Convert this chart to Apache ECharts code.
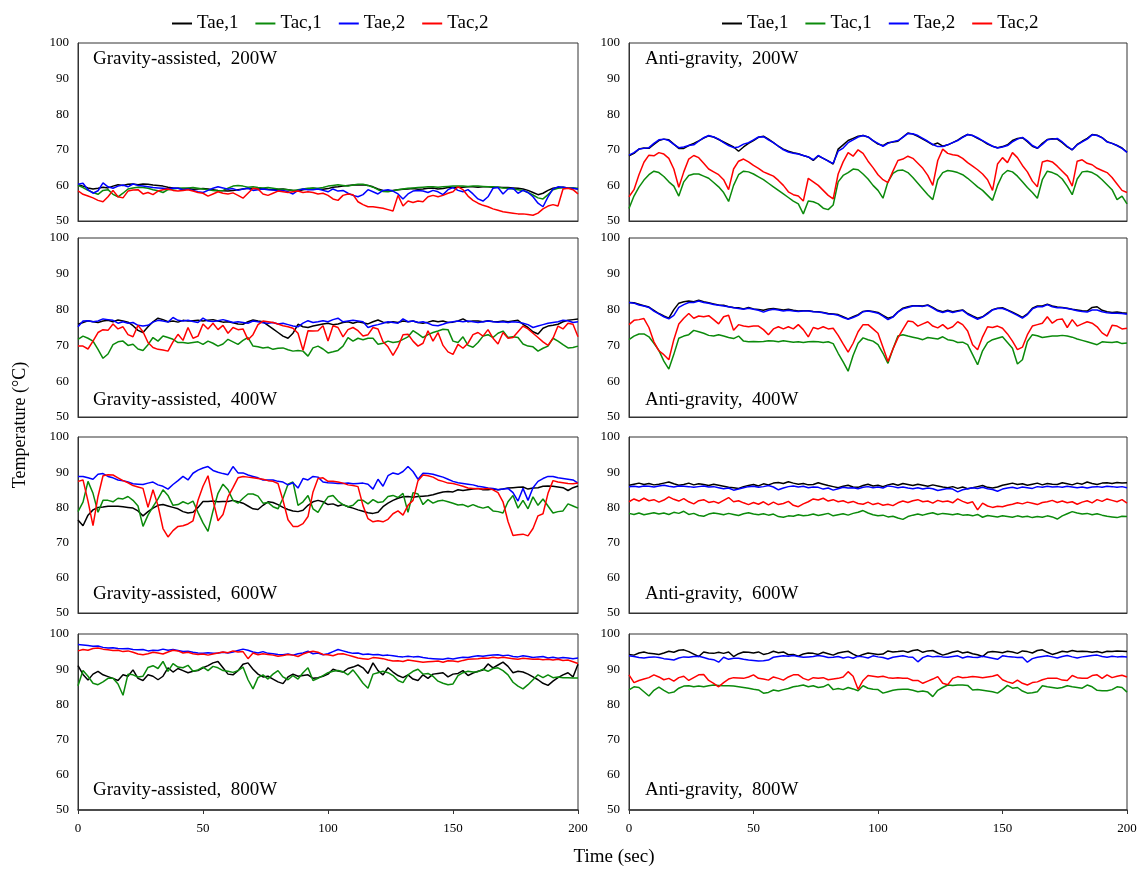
<!DOCTYPE html>
<html>
<head>
<meta charset="utf-8">
<title>Temperature traces</title>
<script src="https://cdn.jsdelivr.net/npm/echarts@6/dist/echarts.min.js"></script>
<style>
  html, body { margin: 0; padding: 0; background: #fff; }
  #chart { width: 1142px; height: 870px; }
</style>
</head>
<body>
<div id="chart"></div>
<script>
// sampling grid: one reading every 2 s, 0..200 s
const TIME = Array.from({ length: 101 }, (_, i) => i * 2);
const SERIES_NAMES = ['Tae,1', 'Tac,1', 'Tae,2', 'Tac,2'];

// ---- Gravity-assisted, 200W
const G200_TAE1 = [60.2,59.8,59.3,59.0,59.2,59.5,
  59.3,59.8,60.2,60.0,60.3,60.4,60.2,60.4,60.3,60.1,
  60.0,59.8,59.5,59.3,59.2,59.0,59.1,58.9,59.0,59.1,
  59.0,58.8,58.6,58.5,58.4,58.6,58.8,59.0,59.2,59.1,
  59.0,59.1,58.9,58.8,58.9,59.0,58.8,58.6,58.4,58.8,
  59.0,59.2,59.0,58.9,59.1,59.5,59.6,59.8,60.0,60.1,
  60.1,60.2,60.0,59.6,59.0,58.6,58.4,58.6,58.8,58.9,
  59.0,59.1,58.9,59.0,59.2,59.3,59.0,59.1,59.4,59.4,
  59.5,59.5,59.6,59.6,59.5,59.6,59.6,59.5,59.5,59.4,
  59.4,59.3,59.2,59.0,58.6,58.0,57.4,57.8,58.6,59.2,
  59.4,59.5,59.3,59.2,59.0];
const G200_TAC1 = [60.0,59.4,58.6,58.0,57.5,58.6,
  58.8,57.5,56.8,57.8,59.0,59.3,59.5,59.4,59.2,58.8,
  58.5,58.0,58.8,59.0,59.2,59.3,59.3,59.4,59.2,59.0,
  58.8,58.6,58.4,58.6,59.2,59.8,60.0,59.8,59.5,59.6,
  59.4,59.3,59.4,59.2,59.0,58.9,58.8,58.6,58.8,59.0,
  59.2,59.3,59.2,59.4,59.8,60.0,60.2,60.0,59.8,60.1,
  60.3,60.3,60.0,59.5,58.8,58.3,58.2,58.5,58.8,59.0,
  59.2,59.3,59.4,59.5,59.6,59.6,59.5,59.6,59.7,59.8,
  59.8,59.8,59.7,59.8,59.8,59.7,59.6,59.6,59.5,59.3,
  59.2,59.0,58.8,58.6,58.0,57.3,56.5,56.2,57.4,58.8,
  59.2,59.4,59.3,59.3,59.2];
const G200_TAE2 = [60.3,60.6,58.8,57.8,58.5,60.7,
  59.6,59.2,59.8,60.1,59.6,60.4,60.0,59.8,59.6,59.4,
  59.3,59.2,59.0,59.3,59.2,58.8,59.0,58.6,58.2,58.0,
  58.6,59.2,59.6,59.3,58.9,59.1,58.6,59.0,59.2,58.6,
  58.8,59.0,58.8,58.7,58.5,58.6,58.2,57.6,58.6,59.0,
  58.8,58.8,59.0,58.6,58.2,59.0,58.4,58.6,57.8,57.2,
  56.8,57.4,58.8,58.2,57.6,58.6,58.8,58.4,57.6,56.2,
  57.6,58.4,58.6,58.4,58.0,58.6,58.2,57.4,58.8,59.4,
  58.6,58.2,58.8,57.6,56.2,55.6,56.8,59.2,59.4,57.6,
  59.0,59.2,57.8,58.6,58.0,56.8,55.0,54.0,56.8,59.0,
  59.6,59.5,59.3,59.2,59.0];
const G200_TAC2 = [58.5,57.5,57.0,56.5,55.8,55.4,
  56.8,58.6,56.8,56.5,58.4,58.7,58.8,57.6,58.0,57.4,
  58.4,58.8,59.0,58.6,58.4,58.6,58.8,58.4,58.0,57.8,
  57.0,57.6,58.2,57.8,57.6,57.9,57.2,56.4,57.8,59.2,
  59.0,57.6,57.2,57.8,58.4,58.2,58.0,58.2,58.4,58.0,
  58.2,58.0,57.6,57.8,57.2,56.2,55.8,57.2,57.6,57.4,
  55.4,54.6,54.0,54.0,53.8,53.6,53.2,52.8,57.2,54.2,
  55.6,55.2,55.6,55.4,56.8,57.2,56.8,57.2,57.8,58.2,
  59.6,58.8,57.0,55.8,55.0,54.4,54.0,53.4,53.0,52.6,
  52.4,52.2,52.0,52.0,51.8,51.6,52.2,53.4,54.2,54.6,
  54.2,59.0,59.2,58.8,57.6];

// ---- Anti-gravity, 200W
const A200_TAE1 = [68.3,69.0,70.2,70.5,70.4,71.5,
  72.6,73.0,72.8,71.6,70.4,70.4,71.2,71.8,72.5,73.3,
  73.9,73.6,72.9,72.2,71.5,70.8,69.6,70.8,71.8,72.6,
  73.5,73.8,73.0,72.0,71.0,70.2,69.6,69.2,68.9,68.4,
  68.0,67.0,68.3,67.6,66.9,66.0,70.2,71.4,72.6,73.2,
  73.8,74.0,73.6,72.6,71.6,71.2,72.0,72.2,72.4,73.6,
  74.7,74.4,73.8,73.0,72.2,71.4,71.9,71.0,71.4,72.0,
  72.7,73.6,74.3,74.0,73.2,72.5,71.6,71.0,70.6,70.9,
  71.4,72.6,73.2,73.4,72.3,71.0,70.4,71.8,72.9,73.1,
  73.0,72.0,70.8,70.0,71.5,72.4,73.2,74.3,74.1,73.4,
  72.3,71.8,71.2,70.5,69.3];
const A200_TAC1 = [53.5,57.0,59.5,61.5,63.0,64.0,
  63.6,62.5,61.0,59.8,57.0,61.0,62.8,63.2,63.2,62.6,
  62.0,60.8,59.6,58.0,55.5,60.0,63.0,64.0,63.8,63.2,
  62.4,61.6,60.6,59.6,58.6,57.6,56.6,55.6,54.8,52.0,
  55.6,55.4,54.8,53.6,53.2,54.5,61.0,62.8,63.6,64.6,
  64.4,63.2,61.8,60.0,58.6,56.4,61.0,63.4,64.2,64.3,
  63.6,62.2,60.6,59.0,57.4,56.0,61.6,63.6,64.2,64.0,
  63.6,63.0,62.0,60.8,59.6,58.6,57.2,55.8,60.0,63.0,
  64.2,63.8,62.6,61.0,59.4,58.0,56.4,61.6,64.0,63.6,
  63.0,61.8,59.8,57.4,61.8,63.8,64.0,63.6,62.8,61.6,
  60.2,58.8,56.0,57.0,54.8];
const A200_TAE2 = [68.5,69.2,70.2,70.4,70.6,71.8,
  72.8,73.0,72.6,71.5,70.6,70.8,71.2,71.4,72.4,73.4,
  74.0,73.6,73.0,72.0,71.2,70.6,70.8,71.6,72.0,72.8,
  73.6,73.7,72.8,72.0,71.0,70.0,69.4,69.0,68.8,68.4,
  68.0,67.2,68.4,67.6,66.8,66.2,69.6,70.5,72.0,72.8,
  73.6,74.0,73.6,72.6,71.8,71.0,71.8,72.3,72.6,73.5,
  74.6,74.5,74.0,73.2,72.4,71.5,70.9,70.9,71.4,72.0,
  72.6,73.5,74.3,74.0,73.4,72.6,71.8,71.0,70.5,70.8,
  71.2,72.2,73.0,73.5,72.5,71.2,70.5,71.5,72.8,73.0,
  73.2,72.2,71.0,70.0,71.4,72.2,73.0,74.2,74.0,73.4,
  72.2,71.8,71.2,70.4,69.3];
const A200_TAC2 = [56.8,58.8,63.0,66.5,68.5,68.3,
  69.2,68.8,67.6,64.6,59.5,63.8,67.4,68.4,67.8,66.2,
  64.6,63.8,63.0,61.6,58.8,64.6,66.8,67.4,66.6,65.6,
  64.8,63.8,63.2,62.6,61.4,60.0,58.2,57.4,57.0,55.6,
  62.0,61.0,60.0,58.6,57.2,56.2,63.2,66.6,69.2,68.2,
  70.0,69.0,66.8,65.0,63.0,61.6,60.8,64.0,67.0,67.4,
  68.2,67.6,66.2,64.8,62.8,60.0,67.0,70.2,69.0,68.6,
  68.4,67.6,66.4,65.4,64.4,63.2,61.6,58.6,66.0,67.8,
  66.4,69.2,67.8,65.6,63.8,61.2,59.6,66.6,67.0,66.6,
  65.4,64.0,62.6,59.8,66.8,67.2,66.2,65.8,64.8,64.2,
  63.6,62.2,60.4,58.6,58.0];

// ---- Gravity-assisted, 400W
const G400_TAE1 = [75.9,76.4,76.9,76.6,76.4,76.8,
  77.0,76.6,77.1,76.8,76.5,75.5,74.2,73.6,75.2,76.6,
  77.6,77.2,76.6,76.8,76.5,77.0,76.8,76.9,77.0,76.8,
  77.0,77.2,76.8,76.5,76.6,76.3,76.0,75.9,76.6,77.1,
  76.8,76.6,75.6,74.6,73.6,72.6,72.0,73.4,75.9,75.2,
  75.0,75.4,75.7,76.0,76.2,75.8,76.0,76.4,76.6,76.2,
  76.6,76.3,76.0,76.6,77.1,76.5,76.3,76.6,76.4,76.8,
  76.6,76.8,76.4,76.2,76.5,76.9,76.6,76.8,76.4,76.5,
  76.8,77.4,76.6,76.8,76.8,76.6,76.9,76.7,76.6,76.8,
  76.6,76.8,77.0,75.9,75.0,73.8,73.2,74.8,75.4,75.6,
  75.9,76.6,77.0,77.2,77.4];
const G400_TAC1 = [71.7,72.6,72.0,71.2,68.9,66.4,
  67.6,70.2,71.0,71.2,70.0,70.3,69.0,68.6,70.2,72.2,
  71.2,72.6,72.2,71.7,70.8,70.8,70.6,70.8,71.0,70.3,
  71.2,70.6,69.8,70.4,71.7,71.0,70.3,71.4,72.2,69.8,
  69.6,69.3,69.5,68.9,69.2,69.3,68.8,68.4,68.6,68.4,
  67.0,69.3,69.8,69.0,67.9,68.2,68.6,69.8,72.2,71.2,
  72.0,71.6,72.0,72.0,70.3,70.6,71.2,70.8,71.0,71.7,
  72.4,74.1,73.2,72.2,73.0,73.6,74.0,74.5,74.4,71.2,
  70.8,72.4,70.0,69.5,70.8,72.6,73.0,72.2,73.4,74.0,
  72.2,72.4,72.2,70.4,69.8,69.6,68.4,69.2,69.8,72.0,
  71.2,70.2,69.3,69.4,69.8];
const G400_TAE2 = [75.2,76.8,76.9,76.6,76.8,77.4,
  77.2,77.0,76.2,76.6,76.2,76.4,75.6,75.4,75.6,76.5,
  77.0,76.8,76.5,77.8,77.0,76.8,77.0,76.7,76.4,77.6,
  76.8,76.7,76.9,77.2,76.8,76.4,76.6,76.4,76.2,76.8,
  76.6,76.3,76.2,76.4,76.0,76.2,75.8,75.4,75.2,76.2,
  76.9,76.4,76.6,76.9,76.6,77.2,77.6,76.6,76.8,77.0,
  76.8,76.6,75.0,75.5,75.8,76.2,76.6,76.4,76.2,77.4,
  76.6,76.8,76.4,76.6,76.2,75.6,75.5,75.9,76.4,76.6,
  76.8,76.6,76.8,76.6,76.4,76.6,76.8,76.6,76.5,76.6,
  76.4,76.6,76.5,76.2,75.8,75.0,75.4,75.8,76.2,76.4,
  76.6,77.0,76.9,76.4,76.6];
const G400_TAC2 = [69.8,69.8,69.0,71.2,73.6,74.4,
  74.2,76.0,74.6,75.2,73.0,72.4,75.6,73.8,70.8,69.4,
  68.9,68.7,68.4,71.0,73.1,71.4,75.0,72.0,72.6,76.0,
  74.6,76.2,74.4,75.6,73.4,75.0,74.4,74.6,71.6,73.0,
  75.8,76.8,76.6,76.4,76.0,75.5,75.2,74.8,73.4,68.6,
  74.1,74.0,74.1,75.5,71.2,75.5,75.0,72.4,74.4,75.0,
  74.1,72.6,73.0,75.0,74.6,71.0,69.6,67.2,69.6,73.0,
  73.1,71.2,69.8,70.6,74.1,71.2,73.6,70.0,68.2,67.5,
  70.3,69.2,70.6,73.0,73.6,72.6,74.4,72.0,70.4,73.6,
  72.0,72.2,73.8,75.4,74.6,73.4,72.2,71.0,70.0,72.0,
  75.4,74.6,76.2,75.9,72.4];

// ---- Anti-gravity, 400W
const A400_TAE1 = [82.0,81.9,81.5,81.1,80.7,79.8,
  78.9,78.2,77.6,80.0,81.8,82.2,82.4,82.2,82.6,82.2,
  81.9,81.6,81.3,81.2,80.8,80.6,80.5,80.2,80.6,80.2,
  80.0,79.8,80.2,80.3,80.1,79.9,80.1,79.8,79.6,79.7,
  79.7,79.5,79.4,79.2,78.9,78.8,78.6,78.0,77.4,78.0,
  78.6,79.5,79.7,79.5,79.2,78.4,77.6,78.0,79.4,80.4,
  80.8,81.1,81.1,81.0,81.3,80.6,79.8,79.4,79.8,79.4,
  79.7,79.9,78.9,78.2,77.6,78.0,79.0,80.0,80.4,80.5,
  79.9,79.3,78.6,77.8,78.8,80.4,81.0,81.0,81.5,81.0,
  80.7,80.6,80.4,80.1,79.9,79.7,79.6,80.6,80.8,79.8,
  79.4,79.2,79.3,79.1,79.0];
const A400_TAC1 = [71.6,72.6,73.2,73.2,72.4,70.6,
  68.6,65.6,63.4,67.5,72.0,72.6,73.0,74.2,73.8,73.4,
  72.8,72.6,73.0,72.6,72.2,71.9,72.6,71.2,71.0,71.1,
  71.0,71.1,71.3,71.2,71.0,71.3,71.1,70.9,71.0,70.8,
  71.0,71.1,71.0,70.8,71.0,70.5,67.8,65.4,62.8,67.2,
  70.6,72.1,71.6,71.2,70.2,67.8,65.0,69.0,72.6,73.0,
  72.6,72.3,72.0,71.6,72.2,72.0,71.8,72.4,71.6,71.4,
  70.8,70.9,70.2,67.4,64.6,68.5,70.8,71.6,72.0,72.4,
  70.8,69.2,64.8,66.0,71.1,73.0,72.7,72.2,72.4,72.6,
  72.6,72.8,72.6,72.3,71.8,71.4,71.0,70.6,70.2,71.0,
  70.9,70.8,71.0,70.5,70.7];
const A400_TAE2 = [82.0,81.8,81.3,81.0,80.6,79.6,
  78.8,78.0,77.4,78.4,80.6,81.4,82.0,82.0,82.4,82.0,
  81.8,81.4,81.2,81.0,80.8,80.5,80.3,80.1,80.4,80.1,
  79.8,79.3,79.8,80.1,79.9,79.6,79.8,79.6,79.5,79.6,
  79.6,79.4,79.3,79.1,78.8,78.7,78.4,77.8,77.3,77.8,
  78.4,79.4,79.6,79.3,79.0,78.2,77.2,77.9,79.3,80.2,
  80.6,81.0,81.0,80.9,81.2,80.4,79.6,79.2,79.6,79.2,
  79.5,79.8,78.7,78.0,77.3,77.9,78.8,79.9,80.3,80.3,
  79.8,79.1,78.4,77.6,78.6,80.2,80.8,80.8,81.4,80.8,
  80.5,80.5,80.3,80.0,79.7,79.5,79.3,79.9,79.9,79.4,
  79.1,79.0,79.0,78.9,78.7];
const A400_TAC2 = [75.8,77.0,77.2,77.5,75.0,71.0,
  68.5,67.4,66.0,71.6,76.0,77.6,78.9,77.6,78.2,78.0,
  78.3,77.2,76.0,78.0,78.4,74.2,75.8,75.4,75.2,75.4,
  75.4,74.4,73.0,74.6,75.2,74.6,75.2,74.6,75.8,74.4,
  72.4,75.0,74.6,75.2,74.6,74.8,72.8,70.4,68.1,70.6,
  73.8,75.8,75.8,74.6,73.4,69.5,65.5,69.0,72.1,74.5,
  76.8,76.6,75.4,76.0,76.6,75.4,74.9,75.8,74.6,75.2,
  76.6,75.8,74.0,70.2,68.8,72.4,75.2,75.0,75.4,74.8,
  73.2,71.2,68.8,69.5,73.0,75.4,75.8,76.2,78.0,76.2,
  77.2,77.4,75.0,77.2,75.4,76.0,76.6,76.2,75.2,73.5,
  72.6,75.6,75.4,74.6,74.8];

// ---- Gravity-assisted, 600W
const G600_TAE1 = [76.4,74.8,77.8,79.3,80.0,80.1,
  80.3,80.3,80.3,80.2,80.0,79.8,79.0,77.6,78.8,79.8,
  80.6,80.8,80.4,80.0,79.6,78.8,78.4,78.6,80.0,81.7,
  81.7,81.8,81.6,81.7,81.7,82.0,81.6,81.2,80.4,79.6,
  79.4,80.6,81.6,81.4,80.8,80.0,79.4,79.0,78.8,79.2,
  80.6,81.6,82.0,81.6,80.8,81.0,80.4,80.8,80.2,79.8,
  79.3,78.9,78.5,78.3,78.6,80.2,81.2,82.0,82.6,83.0,
  83.1,82.9,83.1,83.2,83.3,83.6,84.0,84.4,84.5,84.4,
  85.0,84.8,85.0,85.2,85.4,85.0,85.0,85.2,85.0,85.2,
  85.5,85.6,85.7,85.8,85.2,85.5,85.6,86.0,86.1,86.0,
  85.8,85.6,84.8,85.6,86.1];
const G600_TAC1 = [78.8,81.5,87.4,84.0,78.6,82.0,
  82.0,81.6,82.6,82.4,83.1,82.0,80.4,74.6,77.8,80.2,
  82.4,85.0,83.4,80.6,80.8,81.6,81.0,81.8,78.6,75.6,
  73.2,79.0,84.0,86.6,85.0,82.0,81.2,82.6,83.8,83.8,
  83.2,81.2,81.4,80.2,79.6,82.6,86.6,87.2,80.6,81.6,
  83.4,79.6,78.6,81.0,83.0,83.4,81.8,80.8,80.2,80.6,
  82.0,82.0,81.0,82.2,81.4,81.6,83.1,83.4,82.8,84.0,
  78.6,84.2,83.8,80.8,82.2,81.2,81.8,82.0,81.6,81.2,
  80.7,80.8,80.2,80.8,80.2,79.8,80.2,79.0,78.8,78.4,
  81.6,83.4,79.8,82.0,79.6,83.0,80.6,82.4,80.4,78.4,
  78.8,79.0,81.0,80.4,79.8];
const G600_TAE2 = [88.8,88.8,88.4,88.0,89.4,89.6,
  88.8,88.4,87.8,87.6,87.2,86.7,86.6,86.5,86.9,87.2,
  86.4,86.0,85.2,86.5,87.6,88.8,87.8,89.7,90.6,91.2,
  91.6,90.5,90.0,89.6,89.3,91.6,89.8,89.8,89.2,88.8,
  88.4,87.8,87.8,87.8,87.4,87.2,86.4,87.0,85.5,88.2,
  87.8,88.8,88.6,87.2,87.0,86.9,86.8,86.8,86.9,86.7,
  86.8,86.9,86.6,85.2,88.0,86.0,89.0,89.8,89.4,90.2,
  91.6,90.2,88.0,89.7,89.6,89.4,89.0,88.6,88.0,87.4,
  87.0,86.8,86.6,86.4,86.0,85.8,85.5,85.4,85.0,85.2,
  85.4,84.2,81.8,85.4,82.0,85.6,87.4,88.2,88.8,88.8,
  88.4,88.2,88.0,87.8,86.9];
const G600_TAC2 = [87.4,87.8,81.8,74.8,83.1,89.0,
  89.3,89.2,88.4,87.6,87.0,86.2,85.8,85.4,80.0,85.0,
  80.5,74.0,71.6,73.4,74.6,74.8,75.3,76.2,82.0,86.0,
  89.0,82.0,76.2,78.0,83.0,85.6,88.4,88.8,88.6,88.4,
  88.2,88.0,87.6,87.4,86.8,82.0,76.5,74.6,74.6,75.4,
  77.4,84.4,88.2,88.4,87.4,87.4,87.2,86.9,86.4,86.2,
  85.9,80.5,76.8,75.9,76.2,75.9,76.6,78.2,79.0,77.8,
  80.6,82.0,87.6,89.2,89.0,88.6,87.8,87.4,86.9,86.8,
  86.4,86.0,85.5,85.4,85.3,85.2,85.4,85.0,84.2,81.6,
  76.0,72.0,72.2,72.4,71.9,74.0,77.6,78.2,84.0,87.6,
  87.2,87.0,86.8,86.7,86.9];

// ---- Anti-gravity, 600W
const A600_TAE1 = [86.3,86.6,86.9,86.5,86.8,86.4,
  86.6,86.9,87.2,86.7,86.3,86.5,86.9,86.4,86.7,86.5,
  86.2,86.6,86.3,86.0,85.7,85.6,85.4,85.9,86.2,86.5,
  86.1,86.7,86.4,86.9,87.1,86.8,87.3,86.9,86.6,86.8,
  86.4,86.5,87.0,86.6,86.2,85.9,85.6,86.0,86.3,85.8,
  85.7,86.2,86.6,86.1,86.3,85.9,86.4,86.7,86.3,86.8,
  86.5,86.2,86.6,86.3,86.0,86.4,86.1,85.8,85.6,85.9,
  85.4,85.8,85.3,85.6,85.9,86.2,85.7,85.5,85.8,86.3,
  86.6,86.9,86.5,86.7,86.3,86.6,86.9,86.4,86.8,86.6,
  86.5,87.0,86.7,86.4,86.9,86.6,87.2,86.8,86.5,86.9,
  87.0,86.8,87.1,86.9,87.0];
const A600_TAC1 = [78.3,78.0,78.4,77.9,78.2,78.5,
  78.1,78.4,78.0,78.6,78.3,78.9,78.0,78.3,77.7,77.5,
  78.1,78.4,78.2,77.9,78.3,78.0,77.7,78.2,78.5,78.1,
  77.9,78.2,77.8,78.1,77.4,77.2,77.6,77.5,77.9,77.6,
  77.8,78.1,77.7,78.0,78.3,77.6,77.9,78.2,77.8,78.3,
  78.6,79.1,78.4,77.9,77.6,77.8,77.3,77.5,77.0,76.6,
  77.4,77.8,78.1,77.8,78.2,78.5,78.0,78.3,78.1,77.9,
  78.2,77.8,77.9,77.6,78.0,77.2,77.7,77.5,77.3,77.6,
  77.4,77.2,77.6,77.3,77.5,77.1,77.4,77.2,77.6,77.3,
  76.7,77.6,78.2,78.8,78.4,78.1,78.3,77.9,78.2,77.8,
  77.5,77.3,77.1,77.5,77.4];
const A600_TAE2 = [85.9,86.0,85.8,86.1,86.0,85.8,
  86.1,86.3,86.0,85.8,86.1,86.0,85.9,85.7,85.9,86.1,
  85.8,85.9,85.6,85.3,85.5,84.9,85.2,85.6,85.9,86.0,
  85.7,85.9,86.2,85.8,85.0,85.5,85.9,86.1,85.8,86.0,
  85.6,85.8,85.7,85.2,85.5,84.9,85.3,85.7,85.5,85.6,
  85.3,85.7,85.9,85.6,85.8,85.5,86.1,85.9,85.6,85.8,
  85.5,85.3,85.6,85.2,85.5,85.3,84.8,85.1,85.4,85.2,
  84.4,85.0,85.3,85.6,85.4,85.7,85.3,85.1,84.6,85.2,
  85.5,85.7,85.4,85.8,85.6,85.4,85.9,85.7,86.0,85.8,
  85.9,85.7,86.0,85.8,85.6,85.8,85.5,85.8,85.9,85.7,
  86.0,85.9,85.7,85.9,85.6];
const A600_TAC2 = [81.6,82.4,81.8,82.6,81.9,82.2,
  81.5,82.1,83.0,82.3,81.8,82.5,81.6,81.0,81.9,82.2,
  81.4,81.7,81.2,82.0,82.8,81.6,81.9,81.3,80.8,81.4,
  80.9,81.6,80.7,81.5,80.8,81.1,81.7,80.6,80.2,81.0,
  81.6,82.4,82.1,82.6,81.8,82.2,81.6,81.9,81.3,81.7,
  81.1,80.9,81.5,80.8,81.2,80.6,80.9,80.5,81.3,81.8,
  81.4,81.9,82.2,81.6,81.8,81.2,82.0,81.6,81.8,81.3,
  82.4,81.7,81.2,81.6,79.3,81.2,80.4,80.0,80.3,80.2,
  80.6,80.9,81.3,81.0,81.5,81.2,80.8,81.4,81.6,82.0,
  81.4,81.8,81.3,81.6,80.9,81.5,81.9,81.3,82.2,81.7,
  82.4,82.0,81.6,82.2,81.2];

// ---- Gravity-assisted, 800W
const G800_TAE1 = [91.0,88.5,86.9,88.6,89.4,88.4,
  87.9,87.4,86.8,88.4,88.0,89.8,87.4,86.8,88.4,88.0,
  87.0,88.0,90.4,89.2,90.2,89.6,89.0,89.4,89.6,90.4,
  91.0,91.8,92.2,90.4,88.6,88.4,89.6,91.4,91.8,90.0,
  88.6,87.8,88.0,87.2,86.4,85.9,87.8,88.6,88.0,88.2,
  88.4,87.4,87.6,88.0,88.6,90.0,89.5,89.2,90.2,90.6,
  91.2,90.4,88.8,91.8,89.6,88.4,90.4,89.2,88.2,87.6,
  88.4,87.2,86.8,88.4,87.4,88.6,88.8,89.0,87.8,88.6,
  88.8,89.6,88.2,88.9,89.4,89.8,91.5,90.4,91.2,92.0,
  90.8,89.0,89.4,89.2,88.6,87.8,87.0,86.0,85.4,86.6,
  87.6,88.4,89.0,87.8,91.4];
const G800_TAC1 = [85.3,89.6,88.0,86.0,85.6,86.4,
  87.4,87.4,85.8,82.6,88.6,88.4,87.8,88.0,90.5,91.0,
  90.2,92.2,89.4,91.6,90.6,90.4,91.1,89.4,89.8,90.6,
  89.6,90.8,90.4,89.6,89.4,89.1,89.6,90.6,87.0,84.4,
  87.6,88.4,87.2,88.6,89.6,87.8,87.0,88.2,87.2,89.0,
  90.4,86.8,87.4,88.2,89.0,89.4,89.6,89.3,88.4,89.8,
  88.0,86.0,84.6,88.6,89.0,89.4,89.0,88.2,86.8,86.2,
  88.4,89.4,90.0,88.6,88.8,88.0,86.6,86.0,85.6,85.8,
  88.2,89.0,89.4,89.2,89.3,90.0,89.4,90.2,90.4,89.6,
  88.4,86.3,85.2,84.4,85.6,87.0,88.4,87.6,88.4,87.6,
  87.8,87.6,87.6,87.5,87.5];
const G800_TAE2 = [97.0,96.9,96.7,96.5,96.6,96.2,
  96.0,96.1,95.9,95.8,95.9,95.6,95.5,95.6,95.2,95.4,
  95.3,95.7,95.4,95.6,95.3,95.0,95.1,94.8,94.6,94.5,
  94.7,94.5,94.6,94.8,94.6,94.9,95.3,95.7,95.4,94.9,
  94.6,95.0,94.5,94.4,94.2,94.1,94.3,94.0,94.4,94.6,
  95.1,94.4,94.6,94.1,94.4,95.0,95.6,95.2,94.8,94.5,
  94.6,94.2,94.3,94.1,94.2,93.9,94.0,93.8,93.6,93.5,
  93.7,93.5,93.6,93.3,93.1,93.0,92.9,92.8,93.1,92.9,
  93.2,93.4,93.3,93.6,93.8,93.7,93.9,94.0,94.1,93.8,
  94.0,93.6,93.5,93.8,93.6,93.3,93.5,93.6,93.2,93.4,
  93.1,93.3,93.2,93.0,93.2];
const G800_TAC2 = [95.2,95.6,95.4,95.9,96.0,95.7,
  95.5,95.3,95.4,95.0,95.2,94.8,94.3,94.1,94.4,94.8,
  94.6,94.3,94.9,95.4,95.2,94.6,94.8,94.4,94.2,94.3,
  94.0,94.3,94.6,94.9,94.7,95.2,94.9,95.0,93.0,94.6,
  94.1,94.4,94.2,94.0,93.7,93.9,94.2,94.0,93.6,94.3,
  94.8,95.1,94.8,94.2,94.1,93.8,94.3,94.4,94.0,93.6,
  93.2,93.0,92.8,93.3,93.2,93.0,92.6,92.3,92.4,92.2,
  92.6,92.4,92.2,92.0,92.1,92.2,92.3,92.0,92.4,92.3,
  92.1,92.5,92.8,92.9,93.0,93.2,93.1,93.4,93.2,93.4,
  93.2,93.0,92.8,93.1,93.0,92.8,92.9,92.7,92.8,92.6,
  92.8,92.5,92.6,92.1,91.6];

// ---- Anti-gravity, 800W
const A800_TAE1 = [94.2,94.0,94.6,94.9,94.5,94.4,
  94.2,94.6,95.1,94.8,95.4,95.5,95.0,94.3,93.6,94.9,
  94.6,94.5,94.8,94.5,94.9,93.6,94.4,94.9,94.8,94.6,
  94.9,94.2,94.5,95.1,94.7,94.9,94.1,94.2,93.7,94.3,
  94.6,94.5,94.2,94.8,94.4,94.0,94.6,94.9,95.1,94.3,
  93.6,94.2,94.6,94.4,94.2,94.3,95.2,94.9,95.0,95.2,
  94.8,95.3,95.5,94.8,95.2,95.3,94.6,94.0,94.4,94.9,
  95.2,94.6,94.9,94.4,94.1,93.6,94.8,95.0,94.9,94.7,
  95.1,94.9,94.5,95.2,95.0,94.6,95.3,95.5,94.8,94.2,
  94.6,95.1,94.9,95.3,95.0,95.1,95.0,94.8,95.0,94.7,
  95.1,95.0,95.2,95.1,95.0];
const A800_TAC1 = [84.1,85.0,84.8,83.6,82.4,84.0,
  84.9,84.0,83.2,83.5,84.6,85.2,85.3,85.0,85.2,85.0,
  85.3,85.5,85.4,85.3,85.3,85.2,85.0,84.8,84.6,84.3,
  84.1,83.2,83.4,84.1,83.8,84.2,84.5,85.0,85.2,85.5,
  85.0,85.3,84.8,85.0,85.7,84.2,84.5,84.2,84.8,84.4,
  83.9,85.3,84.6,84.3,84.2,83.2,83.6,84.0,84.2,84.3,
  84.3,84.0,83.6,83.8,83.5,82.2,84.0,84.8,85.5,85.4,
  85.5,85.5,85.4,84.1,84.2,84.0,83.8,83.6,83.2,84.2,
  85.4,84.6,84.8,83.8,83.2,83.3,83.6,85.3,85.0,84.8,
  84.6,84.8,85.3,85.0,84.8,84.6,85.5,85.0,84.0,83.9,
  83.9,84.2,85.0,84.8,83.5];
const A800_TAE2 = [93.8,93.6,93.3,93.2,93.4,93.5,
  93.3,93.0,92.8,92.6,93.2,93.5,93.4,93.6,93.7,93.3,
  92.9,92.7,92.0,93.4,92.8,93.1,93.1,92.8,92.6,92.5,
  92.3,92.4,92.6,93.4,93.6,93.8,93.7,93.9,93.6,93.4,
  93.5,93.6,93.9,93.7,93.3,93.4,93.6,93.2,93.5,93.1,
  93.7,93.5,93.2,93.8,93.5,93.3,92.9,93.4,93.6,93.8,
  93.5,93.4,92.1,93.3,93.8,93.5,93.7,93.5,93.4,93.6,
  93.8,93.2,93.6,93.4,93.3,93.7,93.4,93.1,92.8,93.8,
  93.6,93.5,93.3,93.4,92.0,93.0,93.4,93.6,93.8,93.5,
  93.2,93.6,93.9,93.5,93.2,93.5,93.7,93.9,94.0,93.6,
  93.4,93.7,93.5,93.6,93.5];
const A800_TAC2 = [88.4,86.2,86.8,87.2,87.6,88.4,
  87.8,87.0,87.4,86.6,87.6,88.0,86.8,87.6,88.4,88.5,
  86.8,86.0,85.0,86.2,87.2,87.6,87.5,87.4,87.8,88.4,
  87.4,87.2,86.9,87.8,87.4,86.9,87.8,88.4,88.4,87.4,
  86.9,87.6,87.4,87.6,87.0,87.2,87.4,87.8,89.3,88.0,
  84.3,86.8,88.2,88.0,87.8,88.0,87.6,87.4,87.6,87.4,
  87.4,86.8,86.8,86.0,86.6,87.2,87.9,86.0,85.6,87.4,
  87.9,87.6,87.7,87.9,87.8,87.6,87.8,88.0,88.4,87.0,
  86.4,86.0,86.9,86.0,85.5,86.2,86.4,87.0,87.4,87.4,
  87.4,86.9,86.8,88.2,87.6,87.4,87.4,88.2,88.4,87.4,
  88.4,87.6,88.0,88.3,87.8];

// panels, row by row (left: gravity-assisted, right: anti-gravity)
const PANELS = [
  { label: 'Gravity-assisted,  200W', values: [G200_TAE1, G200_TAC1, G200_TAE2, G200_TAC2] },
  { label: 'Anti-gravity,  200W', values: [A200_TAE1, A200_TAC1, A200_TAE2, A200_TAC2] },
  { label: 'Gravity-assisted,  400W', values: [G400_TAE1, G400_TAC1, G400_TAE2, G400_TAC2] },
  { label: 'Anti-gravity,  400W', values: [A400_TAE1, A400_TAC1, A400_TAE2, A400_TAC2] },
  { label: 'Gravity-assisted,  600W', values: [G600_TAE1, G600_TAC1, G600_TAE2, G600_TAC2] },
  { label: 'Anti-gravity,  600W', values: [A600_TAE1, A600_TAC1, A600_TAE2, A600_TAC2] },
  { label: 'Gravity-assisted,  800W', values: [G800_TAE1, G800_TAC1, G800_TAE2, G800_TAC2] },
  { label: 'Anti-gravity,  800W', values: [A800_TAE1, A800_TAC1, A800_TAE2, A800_TAC2] }
];

// layout
const COL_LEFT = [78, 629];
const COL_WIDTH = [500, 498];
const ROW_TOP = [43, 238, 437, 634];
const ROW_HEIGHT = [178, 179, 176, 176];
const LABEL_TOP = [50, 391, 585, 781];
const LEGEND_LEFT = [167, 717];
const COLORS = ['#000000', '#0b8a0b', '#0000ff', '#ff0000'];
const SERIF = '"Liberation Serif", "Times New Roman", serif';

const chart = echarts.init(document.getElementById('chart'));

const option = {
  animation: false,
  backgroundColor: '#fff',
  textStyle: { fontFamily: SERIF },
  legend: LEGEND_LEFT.map(left => ({
    left: left,
    top: 9,
    data: SERIES_NAMES,
    icon: 'rect',
    itemWidth: 20,
    itemHeight: 2,
    itemGap: 17,
    selectedMode: false,
    textStyle: { fontFamily: SERIF, fontSize: 19, color: '#000' }
  })),
  title: PANELS.map((p, i) => ({
    text: p.label,
    left: i % 2 === 0 ? 93 : 645,
    top: LABEL_TOP[Math.floor(i / 2)],
    padding: 0,
    textStyle: { fontFamily: SERIF, fontSize: 19, fontWeight: 'normal', color: '#000' }
  })),
  grid: PANELS.map((p, i) => ({
    left: COL_LEFT[i % 2],
    top: ROW_TOP[Math.floor(i / 2)],
    width: COL_WIDTH[i % 2],
    height: ROW_HEIGHT[Math.floor(i / 2)],
    show: true,
    borderColor: '#333',
    borderWidth: 1
  })),
  xAxis: PANELS.map((p, i) => {
    const bottom = i >= 6;
    return {
      type: 'value',
      gridIndex: i,
      min: 0,
      max: 200,
      interval: 50,
      splitLine: { show: false },
      axisLine: { show: true, lineStyle: { color: '#333', width: bottom ? 1.5 : 1 } },
      axisTick: { show: bottom, length: 4, lineStyle: { color: '#333' } },
      axisLabel: { show: bottom, fontFamily: SERIF, fontSize: 13, color: '#000', margin: 12 }
    };
  }),
  yAxis: PANELS.map((p, i) => ({
    type: 'value',
    gridIndex: i,
    min: 50,
    max: 100,
    interval: 10,
    splitLine: { show: false },
    axisLine: { show: true, lineStyle: { color: '#333' } },
    axisTick: { show: false },
    axisLabel: { fontFamily: SERIF, fontSize: 13, color: '#000', margin: 9 }
  })),
  graphic: [
    {
      type: 'text',
      x: 20,
      y: 425,
      rotation: Math.PI / 2,
      style: {
        text: 'Temperature (°C)',
        font: '18px ' + SERIF,
        fill: '#000',
        textAlign: 'center',
        textVerticalAlign: 'middle'
      }
    },
    {
      type: 'text',
      x: 614,
      y: 857,
      style: {
        text: 'Time (sec)',
        font: '19px ' + SERIF,
        fill: '#000',
        textAlign: 'center',
        textVerticalAlign: 'middle'
      }
    }
  ],
  series: PANELS.flatMap((p, i) => p.values.map((vals, k) => ({
    name: SERIES_NAMES[k],
    type: 'line',
    xAxisIndex: i,
    yAxisIndex: i,
    showSymbol: false,
    symbol: 'none',
    silent: true,
    color: COLORS[k],
    lineStyle: { width: 1.5, color: COLORS[k] },
    data: TIME.map((t, j) => [t, vals[j]])
  })))
};

chart.setOption(option);
</script>
</body>
</html>
